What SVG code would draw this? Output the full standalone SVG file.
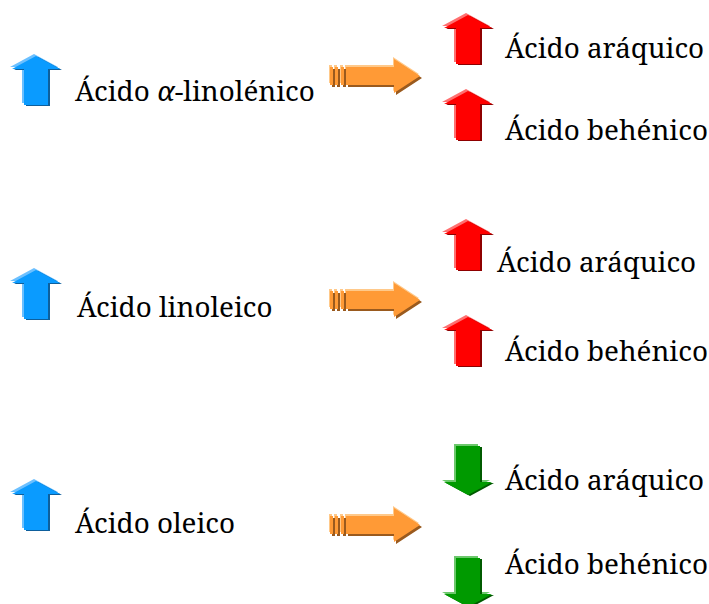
<svg xmlns="http://www.w3.org/2000/svg" xmlns:xlink="http://www.w3.org/1999/xlink" width="709" height="604" viewBox="0 0 709 604">
<defs>
<style>
.bl{--l:#6CC0FF;--m:#0A9BFF;--d:#0E5F9C}
.rd{--l:#FF7070;--m:#FF0000;--d:#8E0000}
.gr{--l:#6CC86C;--m:#009A00;--d:#005A00}
.or{--l:#FFC98A;--m:#FF9A36;--d:#9A5A1E}
.l{fill:var(--l)}.m{fill:var(--m)}.d{fill:var(--d)}
</style>
<path id="up" d="M26,2 L50,15 L38,15 L38,51 L14,51 L14,15 L2,15 Z"/>
<path id="down" d="M14,1 L38,1 L38,37 L50,37 L26,50 L2,37 L14,37 Z"/>
<path id="right" d="M0,-9h3v18h-3z M5,-9h3v18h-3z M11,-9h3v18h-3z M16,-9H64V-17L90,0L64,17V9H16z"/>
<g id="upArrow"><use xlink:href="#up" class="l" transform="translate(-2,-2)"/><use xlink:href="#up" class="d" transform="translate(2,1)"/><use xlink:href="#up" class="m"/></g>
<g id="downArrow"><use xlink:href="#down" class="l" transform="translate(-2,-2)"/><use xlink:href="#down" class="d" transform="translate(2,1)"/><use xlink:href="#down" class="m"/></g>
<g id="rightArrow"><use xlink:href="#right" class="l" transform="translate(-1,-2)"/><use xlink:href="#right" class="d" transform="translate(2,2)"/><use xlink:href="#right" class="m"/></g>
</defs>
<rect width="709" height="604" fill="#fff"/>

<g id="connectors" class="or">
<use xlink:href="#rightArrow" transform="translate(330,76)"/>
<use xlink:href="#rightArrow" transform="translate(330,300)"/>
<use xlink:href="#rightArrow" transform="translate(330,525)"/>
</g>

<g font-family="Noto Serif, Liberation Serif, serif" font-size="27.8" fill="#000">
<g id="n-alpha-linolenico">
<use xlink:href="#upArrow" class="bl" transform="translate(10,54)"/>
<text x="75" y="101">Ácido <tspan font-style="italic">α</tspan>-linolénico</text>
</g>
<g id="n-araquico-1">
<use xlink:href="#upArrow" class="rd" transform="translate(442,13)"/>
<text x="505" y="58">Ácido aráquico</text>
</g>
<g id="n-behenico-1">
<use xlink:href="#upArrow" class="rd" transform="translate(442,89)"/>
<text x="505" y="140">Ácido behénico</text>
</g>

<g id="n-linoleico">
<use xlink:href="#upArrow" class="bl" transform="translate(10,268)"/>
<text x="77" y="317">Ácido linoleico</text>
</g>
<g id="n-araquico-2">
<use xlink:href="#upArrow" class="rd" transform="translate(442,219)"/>
<text x="497" y="272">Ácido aráquico</text>
</g>
<g id="n-behenico-2">
<use xlink:href="#upArrow" class="rd" transform="translate(442,315)"/>
<text x="505" y="361">Ácido behénico</text>
</g>

<g id="n-oleico">
<use xlink:href="#upArrow" class="bl" transform="translate(10,479)"/>
<text x="75" y="533">Ácido oleico</text>
</g>
<g id="n-araquico-3">
<use xlink:href="#downArrow" class="gr" transform="translate(442,445)"/>
<text x="505" y="490">Ácido aráquico</text>
</g>
<g id="n-behenico-3">
<use xlink:href="#downArrow" class="gr" transform="translate(442,557)"/>
<text x="505" y="574">Ácido behénico</text>
</g>
</g>
</svg>
